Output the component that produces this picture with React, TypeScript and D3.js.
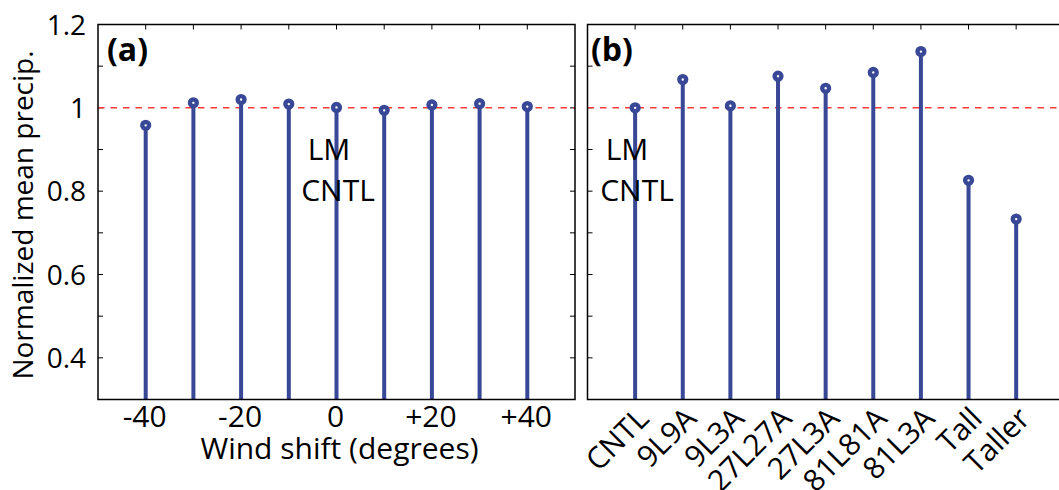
import React from "react";
import * as d3 from "d3";

const windShifts = [-40, -30, -20, -10, 0, 10, 20, 30, 40];
const windPrecip = [0.958, 1.012, 1.02, 1.009, 1.001, 0.994, 1.007, 1.01, 1.003];
const expNames = ["CNTL", "9L9A", "9L3A", "27L27A", "27L3A", "81L81A", "81L3A", "Tall", "Taller"];
const expPrecip = [1.0, 1.068, 1.005, 1.076, 1.047, 1.085, 1.135, 0.826, 0.733];
const yTickLabels = [0.4, 0.6, 0.8, 1, 1.2];
const yMinorTicks = [0.4, 0.5, 0.6, 0.7, 0.8, 0.9, 1.0, 1.1];
const windTickLabels = [-40, -20, 0, 20, 40];
const refLevel = 1;

const FONT = "'Open Sans', 'DejaVu Sans', sans-serif";
const STEM = "#384896";
const TOP = 24.5;
const BOTTOM = 399.5;

export default function App() {
  const y = d3.scaleLinear().domain([0.3, 1.2]).range([BOTTOM, TOP]);
  const xa = d3.scaleLinear().domain([-50, 50]).range([98, 575]);
  const xb = d3.scaleLinear().domain([0, 10]).range([587.5, 1063.8]);
  const fmtY = (v: number) => (v === 1 ? "1" : d3.format(".1f")(v));
  const fmtW = (v: number) => (v > 0 ? "+" + v : String(v));
  const tl = 5;

  const stems = (xs: number[], vs: number[], xsc: (v: number) => number) =>
    xs.map((xv, i) => (
      <g key={i}>
        <line x1={xsc(xv)} x2={xsc(xv)} y1={BOTTOM} y2={y(vs[i])} stroke={STEM} strokeWidth={4} />
        <circle cx={xsc(xv)} cy={y(vs[i])} r={3.4} fill="#fff" stroke={STEM} strokeWidth={4.4} />
      </g>
    ));

  const bIdx = expNames.map((_, i) => i + 1);

  return (
    <svg width={1059} height={490} style={{ position: "absolute", left: 0, top: 0, background: "#fff" }} fontFamily={FONT}>
      {/* Panel A */}
      <g>
        {yMinorTicks.map((t) => (
          <g key={t}>
            <line x1={xa(-50)} x2={xa(-50) + tl} y1={y(t)} y2={y(t)} stroke="#000" strokeWidth={1} />
            <line x1={xa(50)} x2={xa(50) - tl} y1={y(t)} y2={y(t)} stroke="#000" strokeWidth={1} />
          </g>
        ))}
        {windShifts.map((t) => (
          <g key={t}>
            <line x1={xa(t)} x2={xa(t)} y1={TOP} y2={TOP + tl} stroke="#000" strokeWidth={1} />
            <line x1={xa(t)} x2={xa(t)} y1={BOTTOM} y2={BOTTOM - tl} stroke="#000" strokeWidth={1} />
          </g>
        ))}
        <line x1={xa(-50)} x2={xa(50)} y1={y(refLevel)} y2={y(refLevel)} stroke="#ff3b3b" strokeWidth={1.5} strokeDasharray="6.5 6" />
        {stems(windShifts, windPrecip, xa)}
        <rect x={xa(-50)} y={TOP} width={xa(50) - xa(-50)} height={BOTTOM - TOP} fill="none" stroke="#000" strokeWidth={1.5} />
        {yTickLabels.map((t) => (
          <text key={t} x={86} y={y(t) + 10} textAnchor="end" fontSize={28}>
            {fmtY(t)}
          </text>
        ))}
        {windTickLabels.map((t) => (
          <text key={t} x={xa(t) - 1} y={427} textAnchor="middle" fontSize={30}>
            {fmtW(t)}
          </text>
        ))}
        <text x={(xa(-50) + xa(50)) / 2 + 3} y={459} textAnchor="middle" fontSize={30}>
          Wind shift (degrees)
        </text>
        <text x={33} y={215} textAnchor="middle" fontSize={28} transform="rotate(-90 33 215)">
          Normalized mean precip.
        </text>
        <text x={107} y={61} fontSize={32} fontWeight="bold">(a)</text>
        <text x={329} y={160} textAnchor="middle" fontSize={30}>LM</text>
        <text x={338} y={201} textAnchor="middle" fontSize={30}>CNTL</text>
      </g>

      {/* Panel B */}
      <g>
        {yMinorTicks.map((t) => (
          <line key={t} x1={xb(0)} x2={xb(0) + tl} y1={y(t)} y2={y(t)} stroke="#000" strokeWidth={1} />
        ))}
        {bIdx.map((t) => (
          <g key={t}>
            <line x1={xb(t)} x2={xb(t)} y1={TOP} y2={TOP + tl} stroke="#000" strokeWidth={1} />
            <line x1={xb(t)} x2={xb(t)} y1={BOTTOM} y2={BOTTOM - tl} stroke="#000" strokeWidth={1} />
          </g>
        ))}
        <line x1={xb(0)} x2={xb(10)} y1={y(refLevel)} y2={y(refLevel)} stroke="#ff3b3b" strokeWidth={1.5} strokeDasharray="6.5 6" />
        {stems(bIdx, expPrecip, xb)}
        <rect x={xb(0)} y={TOP} width={xb(10) - xb(0)} height={BOTTOM - TOP} fill="none" stroke="#000" strokeWidth={1.5} />
        {expNames.map((n, i) => {
          const ax = xb(i + 1) + 8;
          const ay = 413;
          return (
            <text key={n} x={ax} y={ay} dy="0.35em" textAnchor="end" fontSize={30} transform={`rotate(-45 ${ax} ${ay})`}>
              {n}
            </text>
          );
        })}
        <text x={591} y={61} fontSize={32} fontWeight="bold">(b)</text>
        <text x={627} y={160} textAnchor="middle" fontSize={30}>LM</text>
        <text x={637} y={201} textAnchor="middle" fontSize={30}>CNTL</text>
      </g>
    </svg>
  );
}
